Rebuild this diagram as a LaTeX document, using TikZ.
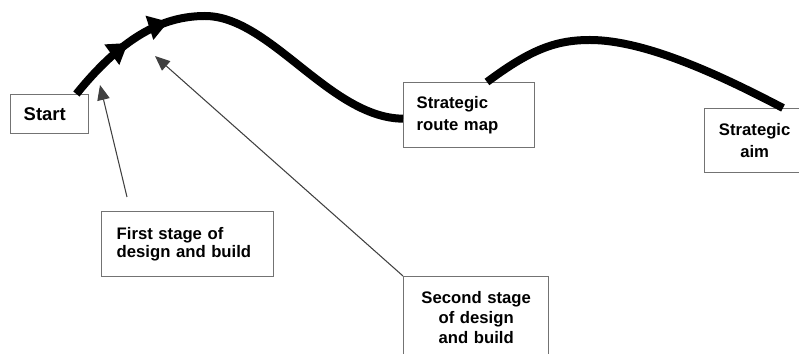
\documentclass[tikz,border=0pt]{standalone}
\usepackage{fontspec}
\setmainfont{Liberation Sans}
\usetikzlibrary{arrows.meta,decorations.markings,calc,positioning}

\tikzset{
  box/.style={draw=black!55, line width=0.8pt, fill=white, anchor=north west,
    inner xsep=0.26cm, inner ysep=0pt, align=left,
    font=\fontsize{9.5}{12.3}\selectfont\bfseries},
  road/.style={line width=0.16cm, black},
  pointer/.style={draw=black!75, line width=0.6pt, -{Triangle[length=0.3cm,width=0.25cm]}},
  stagehead/.style={postaction={decorate, decoration={markings,
    mark=at position 0.19 with {\arrow{Triangle[length=0.4cm,width=0.48cm]}},
    mark=at position 0.31 with {\arrow{Triangle[length=0.4cm,width=0.48cm]}}}}}
}

\begin{document}
\begin{tikzpicture}[x=0.02cm, y=-0.02cm]
  \useasboundingbox (0,0) rectangle (799,354);

  % boxes
  \node[box, minimum width=1.56cm, minimum height=0.78cm, text width=1.04cm,
        font=\fontsize{10.5}{12.3}\selectfont\bfseries] (start) at (10,94) {Start};
  \node[box, minimum width=2.62cm, minimum height=1.3cm, text width=2.1cm] (route) at (403,82)
        {Strategic\\route map};
  \node[box, minimum width=2.0cm, minimum height=1.28cm, text width=1.48cm, align=center] (aim) at (704,108)
        {Strategic\\aim};
  \node[box, minimum width=3.44cm, minimum height=1.3cm, text width=2.84cm, inner xsep=0.3cm,
        font=\fontsize{9.5}{10}\selectfont\bfseries] (first) at (101,211)
        {First stage of\\design and build};
  \node[box, minimum width=2.9cm, minimum height=1.64cm, text width=2.38cm, align=center,
        font=\fontsize{9.5}{11.4}\selectfont\bfseries] (second) at (403,276)
        {Second stage\\of design\\and build};

  % the route
  \draw[road, stagehead] ([xshift=-0.26cm]start.north east)
        .. controls (120,40) and (160,16) .. (205,16)
        .. controls (270,16) and (330,118) .. ([yshift=-0.07cm]route.west);
  \draw[road] ([xshift=1.68cm]route.north west)
        .. controls (530,50) and (555,40) .. (590,40)
        .. controls (645,40) and (720,75) .. ([xshift=1.58cm]aim.north west);

  % pointers to the stages
  \coordinate (firsttip) at (100,85);
  \coordinate (secondtip) at (155,56);
  \draw[pointer] ([xshift=0.52cm, yshift=0.28cm]first.north west) -- (firsttip);
  \draw[pointer] (second.north west) -- (secondtip);
\end{tikzpicture}
\end{document}
